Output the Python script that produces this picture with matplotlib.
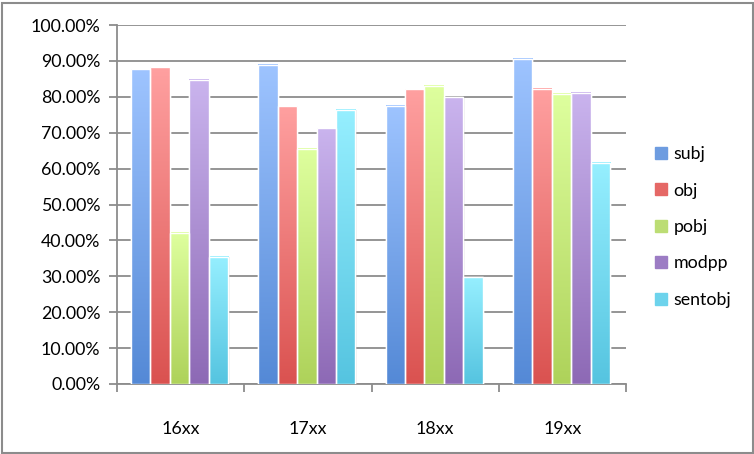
import matplotlib
matplotlib.use("Agg")
import matplotlib.pyplot as plt
import numpy as np
from matplotlib.colors import to_rgb, LinearSegmentedColormap
from matplotlib.patches import Rectangle
from matplotlib.lines import Line2D
from matplotlib.ticker import FuncFormatter, MultipleLocator

categories = ["16xx", "17xx", "18xx", "19xx"]
series = ["subj", "obj", "pobj", "modpp", "sentobj"]
subj = [87.7, 88.9, 77.5, 90.6]
obj = [88.2, 77.3, 82.1, 82.3]
pobj = [42.2, 65.5, 83.1, 80.9]
modpp = [84.8, 71.2, 79.9, 81.1]
sentobj = [35.5, 76.4, 29.7, 61.6]
values = [subj, obj, pobj, modpp, sentobj]

top_colors = ["#9EC4FF", "#FFA0A0", "#DEFF9E", "#CAB4EE", "#96EFFF"]
bottom_colors = ["#5489D6", "#DA5250", "#AED25A", "#8D69B5", "#55C4E0"]
legend_colors = ["#6E9CE0", "#E56866", "#BCDD74", "#9C7CC4", "#6DD3EC"]

plt.rcParams['font.family'] = ['Lato', 'DejaVu Sans']
FS = 12.8

W, H = 754, 454
fig = plt.figure(figsize=(W / 100, H / 100), dpi=100)
ax = fig.add_axes([117 / W, (H - 384) / H, (626 - 117) / W, (384 - 25) / H])

n = len(series)
group_frac = 0.764
bw = group_frac / n
start = 14 / 127
x = np.arange(len(categories))

for i, (name, vals) in enumerate(zip(series, values)):
    xs = x + start + bw * i + bw / 2
    bars = ax.bar(xs, vals, width=bw, color=legend_colors[i], edgecolor="white",
                  linewidth=1.0, zorder=3, label=name)
    cmap = LinearSegmentedColormap.from_list(
        name, [to_rgb(bottom_colors[i]), to_rgb(top_colors[i])])
    grad = np.linspace(0, 1, 256).reshape(-1, 1)
    for b in bars:
        x0, y0 = b.get_x(), b.get_y()
        w, h = b.get_width(), b.get_height()
        # soft shadow on the right side
        ax.add_patch(Rectangle((x0 + 0.01, y0), w, h, facecolor="#000000",
                               alpha=0.07, edgecolor="none", zorder=2))
        ax.imshow(grad, extent=[x0, x0 + w, y0, y0 + h], origin="lower",
                  aspect="auto", cmap=cmap, zorder=4, interpolation="bilinear")
        ax.add_patch(Rectangle((x0, y0), w, h, facecolor="none",
                               edgecolor="white", linewidth=1.0, zorder=5))

ax.set_xlim(0, len(categories))
ax.set_ylim(0, 100)
ax.yaxis.set_major_locator(MultipleLocator(10))
ax.yaxis.set_major_formatter(FuncFormatter(lambda v, p: f"{v:.2f}%"))
ax.grid(axis="y", color="#8C8C8C", linewidth=1.3, zorder=0)
ax.set_axisbelow(True)

ax.set_xticks(x + 0.5)
ax.set_xticklabels(categories)
ax.set_xticks(np.arange(len(categories) + 1), minor=True)
ax.tick_params(axis="x", which="major", length=0, pad=27, labelsize=FS, colors="black")
ax.tick_params(axis="x", which="minor", length=6, width=1.3, color="#8C8C8C")
ax.tick_params(axis="y", length=6, width=1.3, color="#8C8C8C", labelsize=FS, pad=6)

for s in ["top", "right"]:
    ax.spines[s].set_visible(False)
for s in ["left", "bottom"]:
    ax.spines[s].set_color("#8C8C8C")
    ax.spines[s].set_linewidth(1.3)

handles = [Line2D([], [], marker="s", linestyle="none", markersize=8,
                  markerfacecolor=c, markeredgecolor=c) for c in legend_colors]
fig.legend(handles, series, loc="upper left", bbox_to_anchor=(645 / W, 1 - 139 / H),
           frameon=False, fontsize=FS, handletextpad=0.2, labelspacing=1.15,
           handlelength=1.0, borderaxespad=0)

fig.add_artist(Rectangle((1.5 / W, 1.5 / H), (W - 3) / W, (H - 4) / H,
                         transform=fig.transFigure, fill=False,
                         edgecolor="#8C8C8C", linewidth=1.5))

fig.savefig("out.png", dpi=100, facecolor="white")
